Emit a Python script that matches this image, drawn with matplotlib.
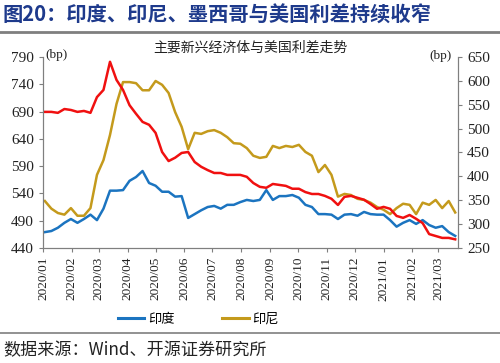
import numpy as np
import pandas as pd
import matplotlib
matplotlib.use("Agg")
import matplotlib.pyplot as plt
import matplotlib.dates as mdates
from matplotlib.lines import Line2D

plt.rcParams['font.family'] = ['Noto Sans CJK SC', 'DejaVu Sans']

# weekly observations, 2020-01-03 .. 2021-03-19
dates = pd.date_range("2020-01-03", periods=64, freq="7D")

india = [469, 471, 477, 486, 493, 486, 493, 501, 491, 512,
         545, 545, 546, 563, 570, 581, 559, 554, 543, 543,
         534, 535, 495, 502, 509, 515, 517, 512, 519, 519,
         524, 528, 526, 528, 546, 528, 535, 535, 537, 532,
         519, 515, 502, 502, 501, 493, 501, 502, 499, 506,
         502, 501, 501, 491, 479, 486, 491, 484, 491, 482,
         477, 480, 469, 462]

indonesia = [526, 512, 504, 501, 513, 499, 499, 513, 574, 601,
             647, 704, 744, 744, 742, 729, 729, 746, 739, 724,
             689, 662, 621, 651, 649, 654, 656, 651, 643, 632,
             631, 623, 609, 605, 607, 627, 623, 627, 625, 629,
             616, 609, 579, 592, 574, 534, 539, 537, 530, 528,
             523, 515, 510, 502, 513, 521, 519, 502, 523, 519,
             528, 513, 526, 505]

# right axis
mexico = [535, 535, 533, 541, 539, 535, 537, 533, 566, 581,
          640, 602, 581, 549, 531, 514, 508, 491, 451, 432,
          439, 449, 451, 430, 420, 413, 407, 407, 403, 403,
          403, 399, 386, 378, 376, 384, 382, 380, 374, 374,
          367, 363, 363, 359, 353, 340, 357, 359, 355, 351,
          342, 332, 336, 332, 317, 313, 319, 311, 302, 279,
          275, 271, 271, 268]

left_ticks = [440, 490, 540, 590, 640, 690, 740, 790]
right_ticks = [250, 300, 350, 400, 450, 500, 550, 600, 650]

c_blue = "#1b74c0"
c_gold = "#c49a1c"
c_red = "#f01010"
grey = "#7f7f7f"
serif = "Liberation Serif"

fig = plt.figure(figsize=(5.0, 3.63), dpi=100)
ax = fig.add_axes([0.086, 0.317, 0.830, 0.526])
ax2 = ax.twinx()

ax.plot(dates, india, color=c_blue, lw=1.8)
ax.plot(dates, indonesia, color=c_gold, lw=1.8)
ax2.plot(dates, mexico, color=c_red, lw=1.8)

ax.set_ylim(440, 790)
ax2.set_ylim(250, 650)
ax.set_yticks(left_ticks)
ax2.set_yticks(right_ticks)
ax.set_xlim(pd.Timestamp("2020-01-01"), pd.Timestamp("2021-03-22"))
ax.xaxis.set_major_locator(mdates.MonthLocator())
ax.xaxis.set_major_formatter(mdates.DateFormatter("%Y/%m"))

for a in (ax, ax2):
    a.spines['top'].set_visible(False)
    for s in a.spines.values():
        s.set_color(grey)
        s.set_linewidth(0.8)
    a.tick_params(colors=grey, length=3, width=0.8, labelcolor="#222222")
    for lab in a.get_yticklabels():
        lab.set_fontfamily(serif)
        lab.set_fontsize(11)
for lab in ax.get_xticklabels():
    lab.set_fontfamily(serif)
    lab.set_fontsize(9.5)
    lab.set_rotation(90)

ax.text(0.006, 1.01, "(bp)", transform=ax.transAxes, fontfamily=serif,
        fontsize=9.5, va="center", ha="left", color="#222222")
ax2.text(0.985, 1.005, "(bp)", transform=ax.transAxes, fontfamily=serif,
         fontsize=9.5, va="center", ha="right", color="#222222")
ax.set_title("主要新兴经济体与美国利差走势", fontsize=10, pad=4, color="#222222")

# header / footer
fig.text(0.006, 0.958, "图20：印度、印尼、墨西哥与美国利差持续收窄", fontsize=14.6,
         fontweight="bold", color="#1e3a8c", va="center", ha="left")
fig.add_artist(Line2D([0, 1], [0.912, 0.912], color=grey, lw=2))
fig.add_artist(Line2D([0, 1], [0.083, 0.083], color=grey, lw=1.2))
fig.text(0.006, 0.036, "数据来源：Wind、开源证券研究所", fontsize=12.3,
         color="#222222", va="center", ha="left")

handles = [Line2D([], [], color=c_blue, lw=2.2), Line2D([], [], color=c_gold, lw=2.2)]
fig.legend(handles, ["印度", "印尼"], loc="center left",
           bbox_to_anchor=(0.212, 0.121), ncol=2, frameon=False,
           fontsize=9.5, handlelength=2.0, handletextpad=0.3, columnspacing=3.6)

fig.savefig("out.png", dpi=100)
